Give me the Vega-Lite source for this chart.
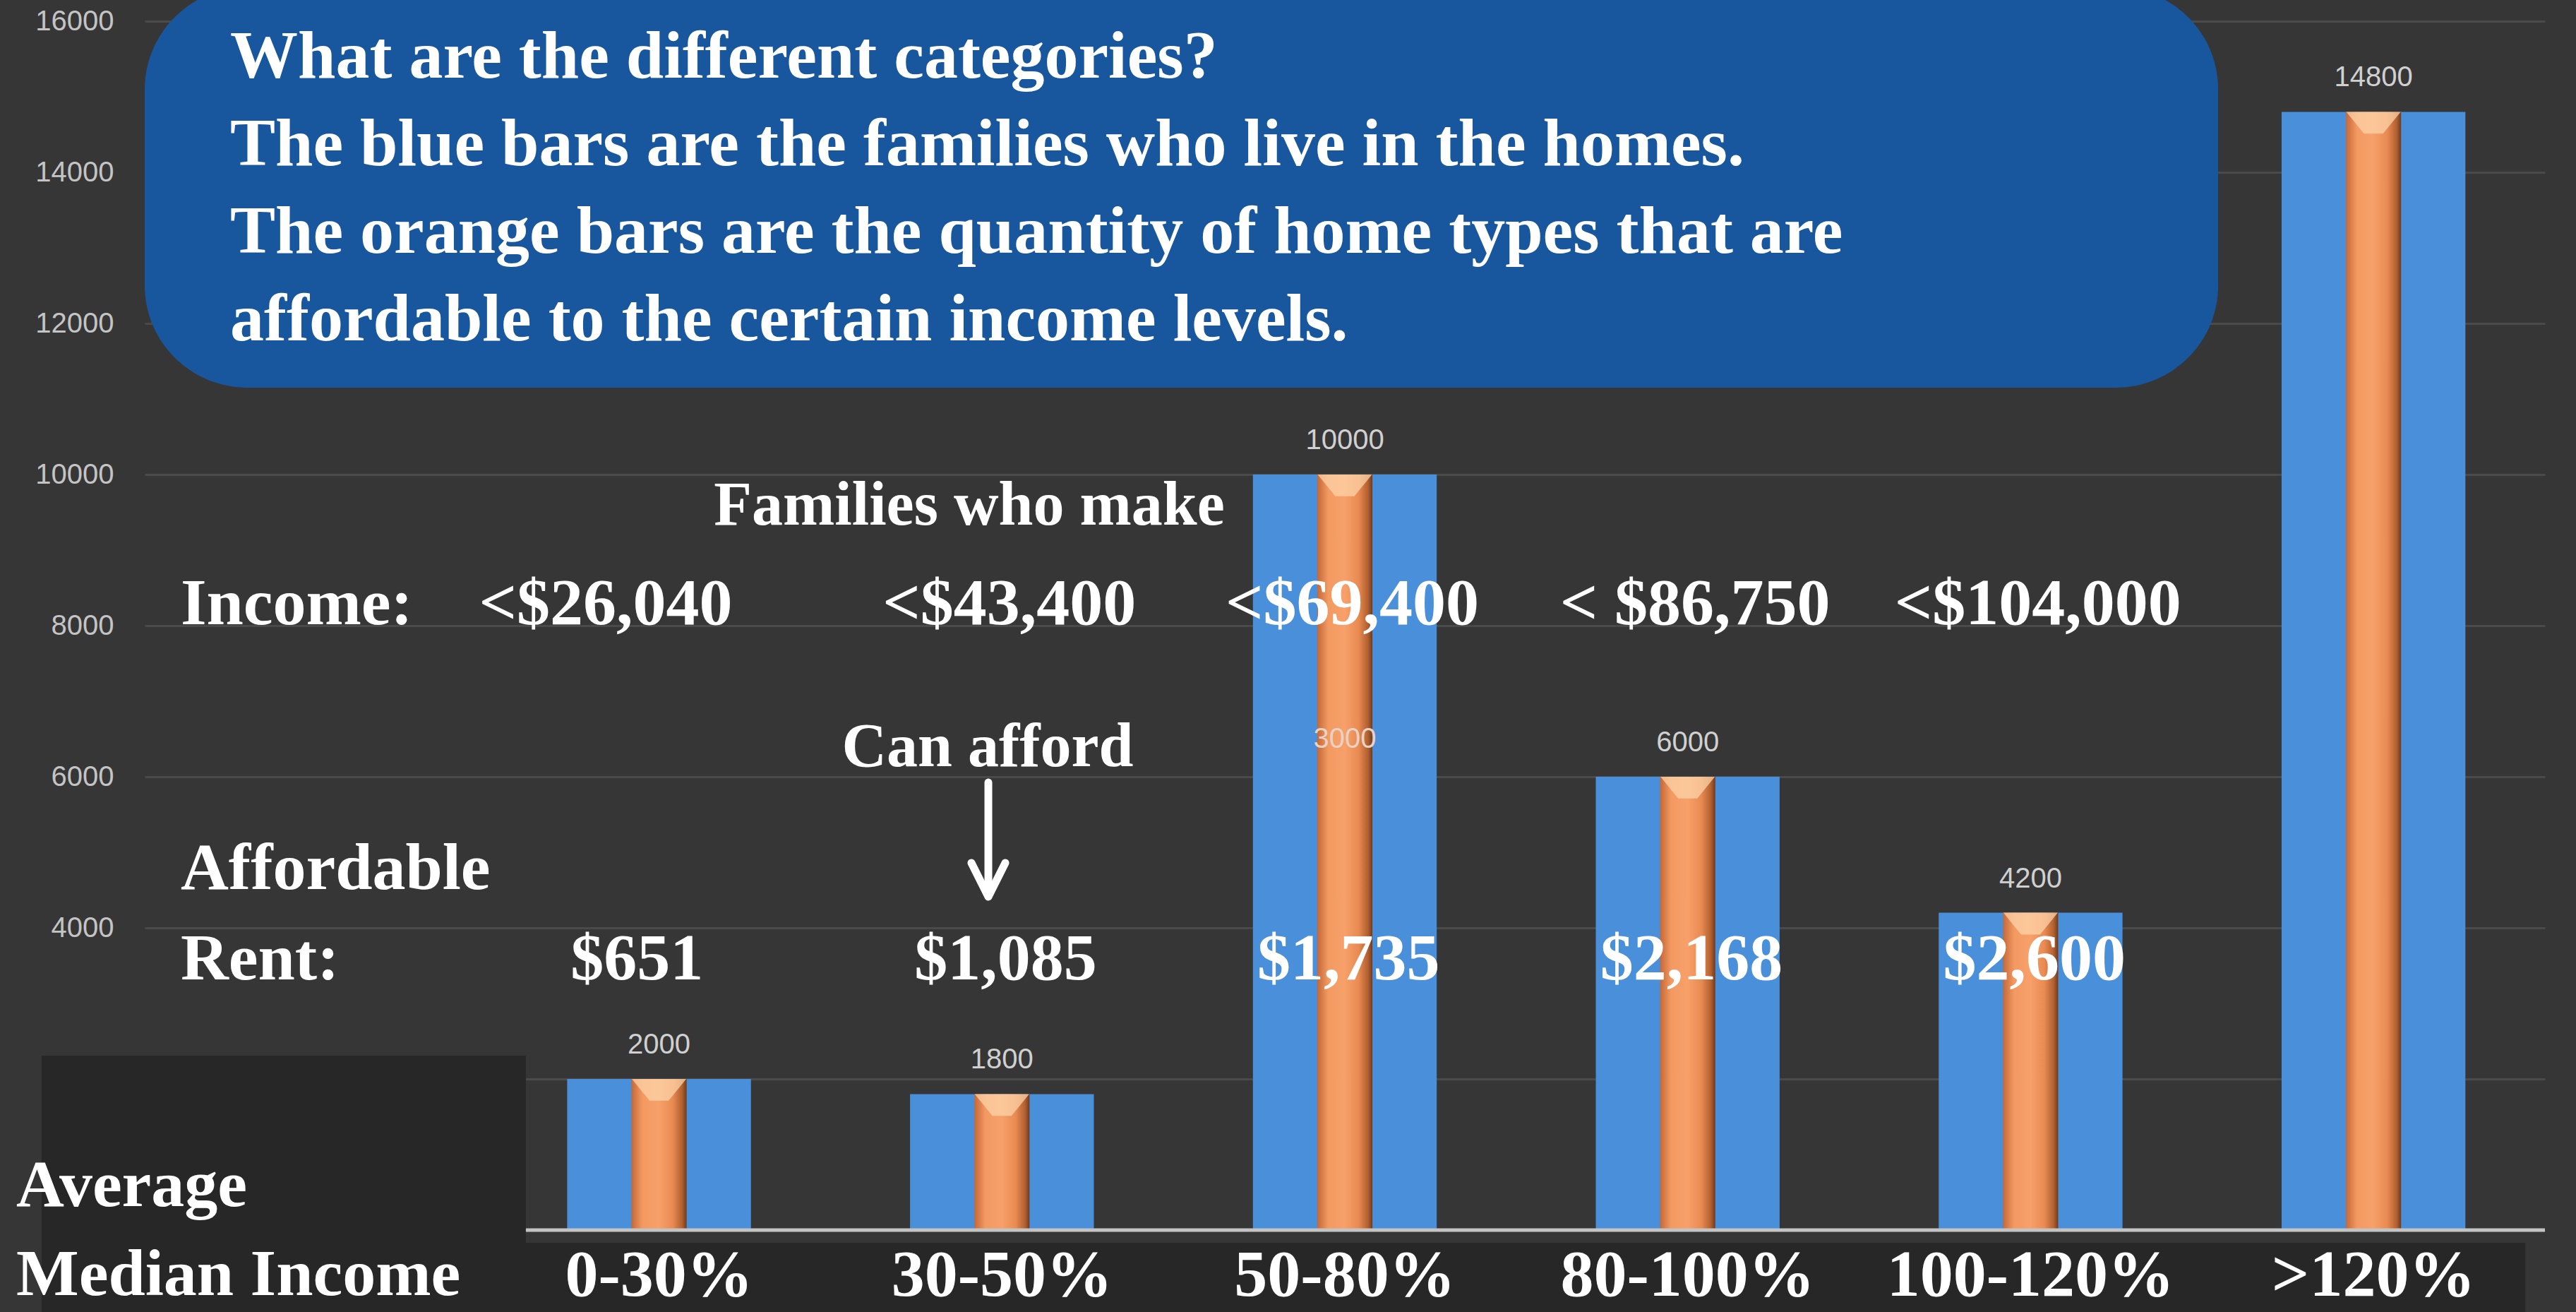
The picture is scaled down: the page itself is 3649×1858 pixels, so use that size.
{
  "$schema": "https://vega.github.io/schema/vega-lite/v6.json",
  "width": 3400,
  "height": 1712,
  "autosize": {"type": "none"},
  "padding": {"left": 205, "top": 30, "right": 44, "bottom": 116},
  "background": "#363636",
  "config": {"view": {"stroke": null}},
  "layer": [
    {
      "data": {"values": [
        {"cat": "0-30%", "families": 2000, "homes": 2000},
        {"cat": "30-50%", "families": 1800, "homes": 1800},
        {"cat": "50-80%", "families": 10000, "homes": 10000},
        {"cat": "80-100%", "families": 6000, "homes": 6000},
        {"cat": "100-120%", "families": 4200, "homes": 4200},
        {"cat": ">120%", "families": 14800, "homes": 14800}
      ]},
      "layer": [
        {
          "mark": {"type": "bar", "color": "#4a8fd9"},
          "encoding": {
            "x": {
              "field": "cat", "type": "nominal", "sort": null, "title": null,
              "scale": {"domain": ["lbl", "0-30%", "30-50%", "50-80%", "80-100%", "100-120%", ">120%"], "paddingInner": 0.464, "paddingOuter": 0.232},
              "axis": {
                "zindex": 1, "domain": false, "ticks": false, "grid": false, "labelAngle": 0,
                "labelExpr": "datum.value == 'lbl' ? '' : datum.label",
                "labelFont": "Liberation Serif", "labelFontWeight": "bold", "labelFontSize": 94,
                "labelColor": "#ffffff", "labelBaseline": "middle", "labelPadding": 64,
                "labelLimit": 0, "labelOverlap": false, "labelBound": false
              }
            },
            "y": {
              "field": "families", "type": "quantitative", "title": null,
              "scale": {"domain": [0, 16000], "nice": false},
              "axis": {
                "values": [0, 2000, 4000, 6000, 8000, 10000, 12000, 14000, 16000],
                "format": "d", "grid": true, "gridColor": "#4a4a4a", "gridWidth": 3,
                "domain": false, "ticks": false, "zindex": 0,
                "labelExpr": "datum.value < 4000 ? '' : datum.label",
                "labelFont": "Liberation Sans", "labelFontSize": 40, "labelColor": "#c4c4c4",
                "labelPadding": 44
              }
            }
          }
        },
        {
          "mark": {
            "type": "bar", "width": {"band": 0.3},
            "color": {"gradient": "linear", "x1": 0, "x2": 1, "y1": 0, "y2": 0,
              "stops": [
                {"offset": 0, "color": "#c46838"},
                {"offset": 0.2, "color": "#f39a62"},
                {"offset": 0.5, "color": "#f7a06a"},
                {"offset": 0.75, "color": "#e98a52"},
                {"offset": 0.92, "color": "#b0602f"},
                {"offset": 1, "color": "#6e3a1e"}
              ]}
          },
          "encoding": {
            "x": {"field": "cat", "type": "nominal"},
            "y": {"field": "homes", "type": "quantitative"}
          }
        },
        {
          "mark": {"type": "point", "shape": "M-1,0L1,0L0.35,0.8L-0.35,0.8Z", "size": 5929, "filled": true, "fill": "#fcd3a8", "opacity": 0.75, "strokeWidth": 0},
          "encoding": {
            "x": {"field": "cat", "type": "nominal"},
            "y": {"field": "homes", "type": "quantitative"}
          }
        },
        {
          "mark": {"type": "text", "dy": -48, "font": "Liberation Sans", "fontSize": 40, "color": "#d0d0d0", "baseline": "middle"},
          "encoding": {
            "x": {"field": "cat", "type": "nominal"},
            "y": {"field": "families", "type": "quantitative"},
            "text": {"field": "families", "type": "quantitative", "format": "d"}
          }
        }
      ]
    },
    {
      "data": {"values": [{}]},
      "mark": {"type": "rule", "color": "#c4c4c4", "strokeWidth": 5},
      "encoding": {"y": {"datum": 0, "type": "quantitative"}}
    },
    {
      "data": {"values": [{"from": "lbl", "to": "lbl"}]},
      "mark": {"type": "rect", "color": "#272727"},
      "encoding": {
        "x": {"field": "from", "type": "nominal", "bandPosition": -0.994},
        "x2": {"field": "to", "bandPosition": 1.641},
        "y": {"datum": 2308, "type": "quantitative"},
        "y2": {"datum": -1200}
      }
    },
    {
      "data": {"values": [{"from": "lbl", "to": ">120%"}]},
      "mark": {"type": "rect", "color": "#272727"},
      "encoding": {
        "x": {"field": "from", "type": "nominal", "bandPosition": 1.641},
        "x2": {"field": "to", "bandPosition": 1.326},
        "y": {"datum": -168, "type": "quantitative"},
        "y2": {"datum": -1200}
      }
    },
    {
      "data": {"values": [{"from": "lbl", "to": ">120%"}]},
      "mark": {"type": "rect", "color": "#18579d", "cornerRadius": 145},
      "encoding": {
        "x": {"field": "from", "type": "nominal", "bandPosition": -0.433},
        "x2": {"field": "to", "bandPosition": -0.345},
        "y": {"datum": 16450, "type": "quantitative"},
        "y2": {"datum": 11150}
      }
    },
    {
      "data": {"values": [{"cat": "lbl"}]},
      "mark": {"type": "text", "align": "left", "baseline": "alphabetic", "font": "Liberation Serif", "fontWeight": "bold", "fontSize": 96, "lineHeight": 124, "color": "#ffffff"},
      "encoding": {
        "x": {"field": "cat", "type": "nominal", "bandPosition": 0.032},
        "y": {"datum": 15252, "type": "quantitative"},
        "text": {"value": ["What are the different categories?", "The blue bars are the families who live in the homes.", "The orange bars are the quantity of home types that are", "affordable to the certain income levels."]}
      }
    },
    {
      "data": {"values": [{"cat": "30-50%"}]},
      "mark": {"type": "text", "align": "center", "baseline": "middle", "font": "Liberation Serif", "fontWeight": "bold", "fontSize": 88, "color": "#ffffff"},
      "encoding": {
        "x": {"field": "cat", "type": "nominal", "bandPosition": 0.322},
        "y": {"datum": 9579, "type": "quantitative"},
        "text": {"value": "Families who make"}
      }
    },
    {
      "data": {"values": [{"cat": "lbl"}]},
      "mark": {"type": "text", "align": "left", "baseline": "middle", "font": "Liberation Serif", "fontWeight": "bold", "fontSize": 94, "color": "#ffffff"},
      "encoding": {
        "x": {"field": "cat", "type": "nominal", "bandPosition": -0.237},
        "y": {"datum": 8280, "type": "quantitative"},
        "text": {"value": "Income:"}
      }
    },
    {
      "data": {"values": [
        {"cat": "0-30%", "income": "<$26,040"}
      ]},
      "mark": {"type": "text", "align": "center", "baseline": "middle", "font": "Liberation Serif", "fontWeight": "bold", "fontSize": 94, "color": "#ffffff"},
      "encoding": {
        "x": {"field": "cat", "type": "nominal", "bandPosition": 0.21},
        "y": {"datum": 8280, "type": "quantitative"},
        "text": {"field": "income", "type": "nominal"}
      }
    },
    {
      "data": {"values": [
        {"cat": "30-50%", "income": "<$43,400"},
        {"cat": "50-80%", "income": "<$69,400"},
        {"cat": "80-100%", "income": "< $86,750"},
        {"cat": "100-120%", "income": "<$104,000"}
      ]},
      "mark": {"type": "text", "align": "center", "baseline": "middle", "font": "Liberation Serif", "fontWeight": "bold", "fontSize": 94, "color": "#ffffff"},
      "encoding": {
        "x": {"field": "cat", "type": "nominal", "bandPosition": 0.54},
        "y": {"datum": 8280, "type": "quantitative"},
        "text": {"field": "income", "type": "nominal"}
      }
    },
    {
      "data": {"values": [{"cat": "50-80%", "homes_label": "3000"}]},
      "mark": {"type": "text", "align": "center", "baseline": "middle", "font": "Liberation Sans", "fontSize": 40, "color": "#e8d2c4"},
      "encoding": {
        "x": {"field": "cat", "type": "nominal"},
        "y": {"datum": 6495, "type": "quantitative"},
        "text": {"field": "homes_label", "type": "nominal"}
      }
    },
    {
      "data": {"values": [{"cat": "30-50%"}]},
      "mark": {"type": "text", "align": "center", "baseline": "middle", "font": "Liberation Serif", "fontWeight": "bold", "fontSize": 88, "color": "#ffffff"},
      "encoding": {
        "x": {"field": "cat", "type": "nominal", "bandPosition": 0.422},
        "y": {"datum": 6383, "type": "quantitative"},
        "text": {"value": "Can afford"}
      }
    },
    {
      "data": {"values": [{"cat": "30-50%"}]},
      "mark": {"type": "rule", "color": "#ffffff", "strokeWidth": 11, "strokeCap": "round"},
      "encoding": {
        "x": {"field": "cat", "type": "nominal", "bandPosition": 0.426},
        "y": {"datum": 5925, "type": "quantitative"},
        "y2": {"datum": 4480}
      }
    },
    {
      "data": {"values": [{"cat": "30-50%"}]},
      "mark": {"type": "point", "shape": "M-1,-1L0,1L1,-1", "size": 2304, "filled": false, "stroke": "#ffffff", "strokeWidth": 11, "strokeCap": "round", "strokeJoin": "round", "opacity": 1},
      "encoding": {
        "x": {"field": "cat", "type": "nominal", "bandPosition": 0.426},
        "y": {"datum": 4636, "type": "quantitative"}
      }
    },
    {
      "data": {"values": [{"cat": "lbl"}]},
      "mark": {"type": "text", "align": "left", "baseline": "middle", "font": "Liberation Serif", "fontWeight": "bold", "fontSize": 94, "lineHeight": 128, "color": "#ffffff"},
      "encoding": {
        "x": {"field": "cat", "type": "nominal", "bandPosition": -0.237},
        "y": {"datum": 4776, "type": "quantitative"},
        "text": {"value": ["Affordable", "Rent:"]}
      }
    },
    {
      "data": {"values": [
        {"cat": "0-30%", "rent": "$651"}
      ]},
      "mark": {"type": "text", "align": "center", "baseline": "middle", "font": "Liberation Serif", "fontWeight": "bold", "fontSize": 94, "color": "#ffffff"},
      "encoding": {
        "x": {"field": "cat", "type": "nominal", "bandPosition": 0.38},
        "y": {"datum": 3580, "type": "quantitative"},
        "text": {"field": "rent", "type": "nominal"}
      }
    },
    {
      "data": {"values": [
        {"cat": "30-50%", "rent": "$1,085"},
        {"cat": "50-80%", "rent": "$1,735"},
        {"cat": "80-100%", "rent": "$2,168"},
        {"cat": "100-120%", "rent": "$2,600"}
      ]},
      "mark": {"type": "text", "align": "center", "baseline": "middle", "font": "Liberation Serif", "fontWeight": "bold", "fontSize": 94, "color": "#ffffff"},
      "encoding": {
        "x": {"field": "cat", "type": "nominal", "bandPosition": 0.52},
        "y": {"datum": 3580, "type": "quantitative"},
        "text": {"field": "rent", "type": "nominal"}
      }
    },
    {
      "data": {"values": [{"cat": "lbl"}]},
      "mark": {"type": "text", "align": "left", "baseline": "middle", "font": "Liberation Serif", "fontWeight": "bold", "fontSize": 94, "lineHeight": 126, "color": "#ffffff"},
      "encoding": {
        "x": {"field": "cat", "type": "nominal", "bandPosition": -1.132},
        "y": {"datum": 579, "type": "quantitative"},
        "text": {"value": ["Average", "Median Income"]}
      }
    }
  ]
}
